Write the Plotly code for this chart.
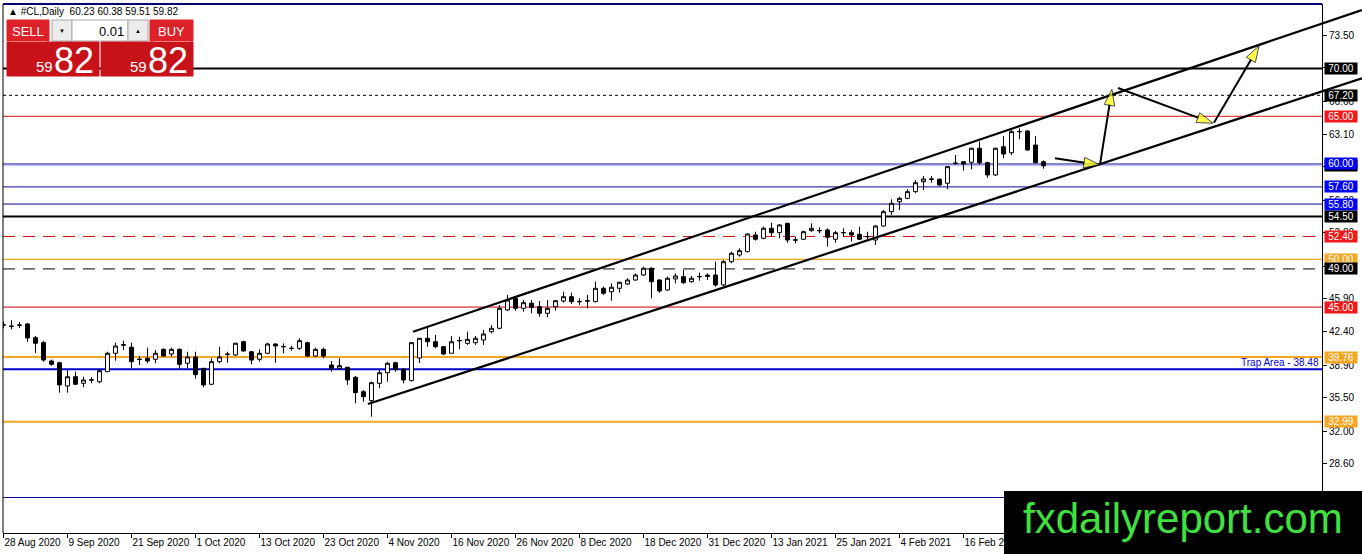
import plotly.graph_objects as go

# ---- daily candles of #CL, 28 Aug 2020 .. 2 Mar 2021 ----
opens = [43.10, 43.00, 43.08, 43.23, 41.79, 41.27, 39.35, 39.17, 36.73, 37.70,
         37.01, 37.34, 37.18, 38.23, 40.16, 41.00, 40.79, 39.55, 39.63, 39.53,
         40.57, 40.08, 40.57, 39.11, 39.77, 38.58, 36.91, 39.28, 40.03, 39.98,
         41.37, 40.32, 39.53, 40.16, 41.13, 40.83, 40.70, 40.68, 41.27, 39.87,
         40.57, 38.93, 38.58, 38.69, 37.64, 36.13, 35.19, 37.01, 38.12, 39.17,
         38.48, 37.29, 39.66, 41.73, 41.37, 40.85, 40.16, 41.46, 41.20, 41.27,
         41.55, 42.42, 42.78, 44.70, 45.92, 44.87, 45.40, 45.04, 44.35, 45.04,
         45.64, 46.09, 45.55, 45.62, 45.57, 46.97, 46.61, 46.97, 47.42, 47.84,
         48.36, 49.07, 47.84, 46.79, 47.95, 48.19, 47.66, 48.17, 48.35, 48.36,
         47.32, 49.76, 50.46, 50.81, 52.56, 52.21, 53.26, 52.80, 53.78, 52.01,
         52.11, 53.01, 52.99, 53.08, 52.11, 52.78, 52.80, 52.63, 52.36, 52.03,
         53.50, 55.00, 56.05, 56.40, 57.10, 58.14, 58.38, 58.40, 57.98, 60.05,
         60.24, 60.18, 61.65, 60.14, 58.85, 61.81, 61.18, 63.37, 63.46, 61.99,
         60.23]
highs = [43.47, 43.63, 43.44, 43.33, 41.97, 41.45, 39.50, 39.28, 38.41, 38.23,
         37.70, 37.64, 38.48, 40.32, 41.27, 41.48, 41.27, 39.87, 40.75, 40.50,
         40.68, 40.75, 40.68, 40.32, 40.32, 38.62, 39.63, 40.85, 40.32, 41.27,
         41.48, 40.40, 40.57, 41.27, 41.20, 41.20, 40.92, 41.73, 41.37, 40.75,
         40.75, 39.35, 39.63, 38.75, 37.78, 36.31, 37.18, 38.41, 39.28, 39.28,
         38.58, 41.30, 41.76, 42.91, 42.08, 40.92, 41.97, 41.90, 42.42, 41.97,
         42.60, 43.12, 45.22, 46.27, 46.09, 45.74, 45.74, 45.64, 45.74, 45.74,
         46.61, 46.51, 45.92, 46.27, 47.66, 47.14, 47.49, 47.66, 48.02, 48.54,
         49.23, 49.17, 47.91, 48.19, 48.54, 48.89, 48.26, 48.61, 48.54, 49.76,
         49.94, 50.81, 51.16, 52.74, 52.90, 53.43, 53.85, 53.71, 53.85, 52.38,
         53.01, 53.78, 53.36, 53.26, 52.98, 53.26, 53.08, 53.43, 52.90, 53.61,
         55.18, 56.30, 56.57, 57.35, 58.32, 58.74, 58.74, 58.50, 59.75, 60.94,
         60.30, 61.71, 62.34, 60.24, 61.71, 62.94, 63.74, 63.74, 63.56, 62.94,
         60.38]
lows = [42.78, 42.67, 42.80, 41.34, 40.19, 39.28, 38.85, 36.03, 36.03, 36.84,
        36.59, 37.01, 37.01, 38.20, 39.38, 40.50, 38.58, 38.93, 39.11, 39.11,
        39.80, 39.80, 38.41, 38.58, 37.50, 36.59, 36.85, 39.11, 39.17, 39.87,
        40.32, 39.00, 39.28, 40.08, 39.17, 40.16, 40.43, 40.50, 39.77, 39.80,
        39.63, 38.23, 38.51, 36.84, 34.92, 35.08, 33.51, 36.49, 37.18, 38.23,
        37.01, 37.20, 39.14, 40.85, 40.68, 39.98, 40.16, 40.57, 41.03, 41.03,
        41.03, 42.25, 42.67, 44.60, 44.60, 44.52, 44.35, 43.99, 43.93, 44.62,
        45.46, 45.33, 45.22, 44.87, 45.50, 46.27, 45.67, 46.51, 47.32, 47.77,
        48.26, 45.92, 46.51, 46.72, 47.49, 47.42, 47.56, 47.77, 47.84, 47.14,
        47.14, 49.59, 50.28, 50.74, 51.96, 52.11, 52.38, 52.21, 51.75, 51.69,
        52.03, 52.90, 52.74, 51.34, 51.75, 52.38, 51.87, 52.03, 52.03, 51.51,
        53.43, 54.65, 55.18, 56.30, 56.93, 57.27, 58.04, 57.69, 57.35, 59.90,
        59.30, 59.44, 59.90, 58.56, 58.74, 60.60, 60.94, 62.59, 61.39, 60.07,
        59.51]
closes = [43.14, 42.98, 43.12, 41.76, 41.21, 39.45, 39.00, 36.84, 37.70, 36.91,
          37.36, 37.38, 38.33, 40.16, 40.92, 41.06, 39.28, 39.51, 39.35, 40.16,
          39.87, 40.57, 39.00, 39.77, 37.92, 36.84, 39.28, 39.77, 40.07, 41.21,
          40.40, 39.45, 40.16, 41.13, 40.92, 40.87, 40.66, 41.48, 39.87, 40.57,
          39.87, 38.58, 38.86, 37.36, 36.03, 35.61, 37.08, 38.12, 39.11, 38.48,
          37.36, 41.27, 41.73, 41.37, 40.85, 40.08, 41.37, 41.50, 41.62, 41.73,
          42.18, 42.78, 44.87, 45.74, 44.87, 45.46, 44.98, 44.35, 44.87, 45.67,
          46.09, 45.57, 45.59, 45.66, 46.97, 46.45, 47.08, 47.60, 47.84, 48.36,
          49.07, 47.66, 46.69, 48.02, 48.26, 47.56, 48.02, 48.21, 48.22, 47.32,
          49.76, 50.64, 50.91, 52.66, 52.11, 53.26, 52.80, 53.61, 52.03, 52.05,
          52.90, 53.26, 53.03, 52.32, 52.80, 52.82, 52.56, 52.11, 52.40, 53.50,
          55.00, 55.88, 56.40, 57.10, 58.04, 58.43, 58.42, 57.80, 59.72, 60.09,
          60.00, 61.65, 60.14, 58.85, 61.65, 61.05, 63.39, 63.41, 61.47, 60.14,
          59.82]
bars = list(range(len(closes)))

date_ticks = [0, 8, 16, 24, 32, 40, 48, 56, 64, 72, 80, 88, 96, 104, 112, 120]
date_labels = ["28 Aug 2020", "9 Sep 2020", "21 Sep 2020", "1 Oct 2020",
               "13 Oct 2020", "23 Oct 2020", "4 Nov 2020", "16 Nov 2020",
               "26 Nov 2020", "8 Dec 2020", "18 Dec 2020", "31 Dec 2020",
               "13 Jan 2021", "25 Jan 2021", "4 Feb 2021", "16 Feb 2021"]

price_ticks = [28.60, 32.00, 35.50, 38.90, 42.40, 45.90, 49.30, 52.80,
               56.20, 59.70, 63.10, 66.60, 70.10, 73.50]

# horizontal levels drawn by the analyst
levels = [70.00, 67.20, 65.00, 60.00, 57.60, 55.80, 54.50, 52.40,
          50.00, 49.00, 45.00, 39.76, 38.48, 32.99, 25.04]
trap_level = 38.48

# channel lines (bar index, price)
upper_x = [51.19, 169.8]
upper_y = [42.42, 76.14]
lower_x = [45.56, 169.8]
lower_y = [34.84, 68.98]

# projected path arrows
arrow_x = [[131.44, 137.06], [137.06, 138.56], [139.31, 151.19], [151.31, 156.94]]
arrow_y = [[60.60, 59.90], [59.90, 67.83], [67.97, 64.27], [64.33, 72.37]]

lot_size = "0.01"

# ---- styling ----
FONT = "Liberation Sans, Arial, sans-serif"
NARROW = "Liberation Sans Narrow, Liberation Sans, Arial, sans-serif"
RED = "#dd1010"
NAVY = "#0a0a9a"
ORANGE = "#f5a623"
level_style = {
    70.00: ("black", 2, "solid", "black"),
    67.20: ("black", 1, "3px,3px", "black"),
    65.00: (RED, 1, "solid", "#f01818"),
    60.00: (NAVY, 1, "solid", "#0000ff"),
    57.60: (NAVY, 1, "solid", "#0000ff"),
    55.80: (NAVY, 1, "solid", "#0000ff"),
    54.50: ("black", 2, "solid", "black"),
    52.40: (RED, 1, "12px,8px", "#f01818"),
    50.00: (ORANGE, 1.3, "solid", "#f5a623"),
    49.00: ("black", 1, "12px,8px", "black"),
    45.00: ("#c80000", 1, "solid", "#f01818"),
    39.76: (ORANGE, 2, "solid", "#f5a623"),
    38.48: ("#0000cc", 2, "solid", None),
    32.99: (ORANGE, 2, "solid", "#f5a623"),
    25.04: (NAVY, 1, "solid", None),
}

W, H = 1362, 554
ML, MR, MT, MB = 3, 0, 4, 21
AXIS_PX = 1322                      # pixel column of the price axis
BAR_PX = 8.0                        # pixels per bar
pw, ph = W - ML - MR, H - MT - MB
d = (AXIS_PX - ML) / pw             # paper x of the price axis
x_lo = -0.06
x_hi = x_lo + pw / BAR_PX
y_lo, y_hi = 21.32, 76.77


def qx(p):
    return (p - ML) / pw


def qy(p):
    return (H - MB - p) / ph


fig = go.Figure()

fig.add_trace(go.Candlestick(
    x=bars, open=opens, high=highs, low=lows, close=closes,
    increasing=dict(line=dict(color="black", width=1), fillcolor="white"),
    decreasing=dict(line=dict(color="black", width=1), fillcolor="black"),
    whiskerwidth=0, hoverinfo="skip",
))

for xs, ys in [(upper_x, upper_y), (lower_x, lower_y)]:
    fig.add_trace(go.Scatter(x=xs, y=ys, mode="lines",
                             line=dict(color="black", width=2.2),
                             hoverinfo="skip"))

for xs, ys in zip(arrow_x, arrow_y):
    fig.add_trace(go.Scatter(
        x=xs, y=ys, mode="lines+markers",
        line=dict(color="black", width=2),
        marker=dict(symbol="arrow", size=[0, 17], angleref="previous",
                    color="#ffff00", line=dict(color="black", width=1)),
        hoverinfo="skip"))

shapes = []
annotations = []

# bid line
shapes.append(dict(type="line", xref="paper", yref="y", x0=0, x1=d,
                   y0=closes[-1], y1=closes[-1],
                   line=dict(color="#b8b8ff", width=1), layer="below"))

for lv in levels:
    col, wd, dash, bg = level_style[lv]
    shapes.append(dict(type="line", xref="paper", yref="y", x0=0, x1=d,
                       y0=lv, y1=lv, line=dict(color=col, width=wd, dash=dash),
                       layer="below"))

# price labels on the axis
label_list = [(closes[-1], "black")] + [(lv, level_style[lv][3]) for lv in levels
                                        if level_style[lv][3]]
for lv, bg in label_list:
    annotations.append(dict(xref="paper", yref="y", x=d, y=lv, xanchor="left",
                            xshift=2, text=f"{lv:.2f}", showarrow=False,
                            bgcolor=bg, width=32, height=11, borderpad=0,
                            font=dict(family=FONT, size=10, color="white")))

annotations.append(dict(xref="paper", yref="y", x=d, y=trap_level,
                        xanchor="right", yanchor="bottom", xshift=-1, yshift=-1,
                        text=f"Trap Area - {trap_level:.2f}", showarrow=False,
                        font=dict(family=FONT, size=10, color="#0000dd")))

# frame
shapes.append(dict(type="line", xref="paper", yref="paper", x0=0, x1=d, y0=1, y1=1,
                   line=dict(color="#000070", width=2)))
shapes.append(dict(type="line", xref="paper", yref="paper", x0=0, x1=0, y0=0, y1=1,
                   line=dict(color="black", width=1)))

# header
annotations.append(dict(xref="paper", yref="paper", x=qx(6), y=qy(11),
                        xanchor="left", yanchor="middle", showarrow=False,
                        text=f"\u25b2 #CL,Daily  {opens[-1]:.2f} {highs[-1]:.2f} "
                             f"{lows[-1]:.2f} {closes[-1]:.2f}",
                        font=dict(family=FONT, size=10, color="black")))

# one-click trading panel
def rect(x0, y0, x1, y1, fill, edge=None):
    shapes.append(dict(type="rect", xref="paper", yref="paper",
                       x0=qx(x0), x1=qx(x1), y0=qy(y1), y1=qy(y0),
                       fillcolor=fill, layer="above",
                       line=dict(color=edge or fill, width=1)))


def label(x, y, txt, size, color, anchor="center", family=FONT):
    annotations.append(dict(xref="paper", yref="paper", x=qx(x), y=qy(y),
                            xanchor=anchor, yanchor="middle", text=txt,
                            showarrow=False,
                            font=dict(family=family, size=size, color=color)))


rect(7, 20, 49, 41, "#de2028")
rect(52, 20, 72, 41, "#ececec", "#a8a8a8")
rect(72, 20, 128, 41, "white", "#a8a8a8")
rect(128, 20, 148, 41, "#ececec", "#a8a8a8")
rect(150, 20, 193, 41, "#de2028")
rect(7, 42, 99, 76, "#c8121a")
rect(101, 42, 193, 76, "#c8121a")
shapes.append(dict(type="line", xref="paper", yref="paper", x0=qx(10), x1=qx(46),
                   y0=qy(41.5), y1=qy(41.5), layer="above",
                   line=dict(color="#f08080", width=1)))
shapes.append(dict(type="line", xref="paper", yref="paper", x0=qx(153), x1=qx(190),
                   y0=qy(41.5), y1=qy(41.5), layer="above",
                   line=dict(color="#f08080", width=1)))

big, small = f"{closes[-1]:.2f}".split(".")
label(28, 31, "SELL", 13, "white")
label(171, 31, "BUY", 13, "white")
label(62, 31, "\u25bc", 6, "black")
label(138, 31, "\u25b2", 6, "black")
label(126, 31, lot_size, 13, "black", "right")
for x0 in (34, 128):
    label(x0, 66, big, 15, "white", "left")
    label(x0 + 18, 60, small, 36, "white", "left", NARROW)

# watermark box
shapes.append(dict(type="rect", xref="paper", yref="paper",
                   x0=qx(1004), x1=qx(1366), y0=qy(558), y1=qy(491),
                   fillcolor="black", line=dict(color="black", width=0),
                   layer="above"))
annotations.append(dict(xref="paper", yref="paper", x=qx(1183), y=qy(518),
                        xanchor="center", yanchor="middle", showarrow=False,
                        text="fxdailyreport.com",
                        font=dict(family=FONT, size=42, color="#3fe03f")))

fig.update_layout(
    width=W, height=H,
    margin=dict(l=ML, r=MR, t=MT, b=MB, autoexpand=False),
    paper_bgcolor="white", plot_bgcolor="white",
    showlegend=False,
    shapes=shapes, annotations=annotations,
    font=dict(family=FONT, size=10, color="black"),
    xaxis=dict(range=[x_lo, x_hi], domain=[0, 1], fixedrange=True,
               automargin=False, tickangle=0,
               tickvals=date_ticks, ticktext=date_labels,
               ticklabelposition="outside right",
               ticks="outside", ticklen=4, tickcolor="black",
               showline=True, linecolor="black", linewidth=1,
               showgrid=False, zeroline=False,
               tickfont=dict(family=FONT, size=10, color="black"),
               rangeslider=dict(visible=False)),
    yaxis=dict(range=[y_lo, y_hi], anchor="free", position=d, side="right",
               fixedrange=True, automargin=False,
               tickvals=price_ticks, ticktext=[f"{v:.2f}" for v in price_ticks],
               ticks="outside", ticklen=4, tickcolor="black",
               showline=True, linecolor="black", linewidth=1,
               showgrid=False, zeroline=False,
               tickfont=dict(family=FONT, size=10, color="black")),
)

# page body has an 8px default margin; drop it so the chart sits at the corner
fig.write_html("out.html", config={"displayModeBar": False},
               post_script="document.body.style.margin='0';")
